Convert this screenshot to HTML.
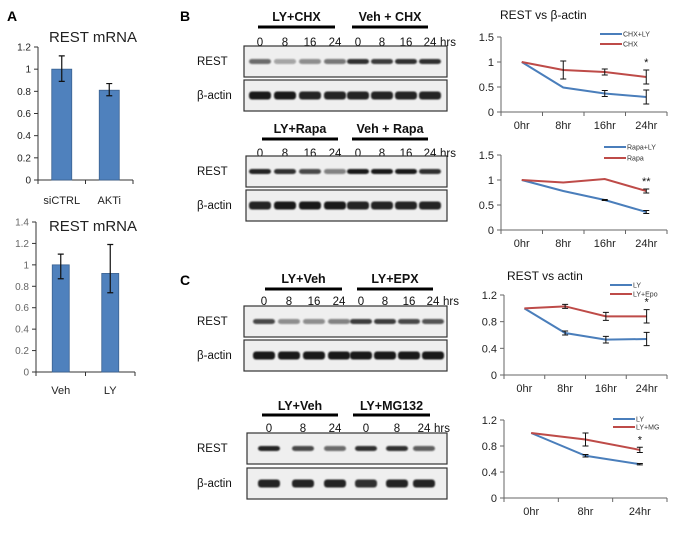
<!DOCTYPE html>
<html><head><meta charset="utf-8"><style>
html,body{margin:0;padding:0;background:#fff}
svg{display:block;font-family:"Liberation Sans",Arial,sans-serif}
</style></head><body>
<svg id="fig" width="680" height="533" viewBox="0 0 680 533" xmlns="http://www.w3.org/2000/svg">
<defs><filter id="blur" x="-20%" y="-80%" width="140%" height="260%"><feGaussianBlur stdDeviation="0.9"/></filter></defs>
<text x="7" y="21" font-size="14" font-weight="bold">A</text>
<text x="180" y="21" font-size="14" font-weight="bold">B</text>
<text x="180" y="285" font-size="14" font-weight="bold">C</text>
</svg>
<script>
const NS='http://www.w3.org/2000/svg';
const svg=document.getElementById('fig');
function mk(tag,attrs,parent){const e=document.createElementNS(NS,tag);for(const k in attrs)e.setAttribute(k,attrs[k]);(parent||svg).appendChild(e);return e;}
function txt(s,attrs){const t=mk('text',attrs);t.textContent=s;return t;}

// ---------- Panel A data ----------
const a1Cats=['siCTRL','AKTi'];
const a1Vals=[1.0,0.81];
const a1ErrLo=[0.89,0.76];
const a1ErrHi=[1.12,0.87];
const a1Ticks=['0','0.2','0.4','0.6','0.8','1','1.2'];
const a2Cats=['Veh','LY'];
const a2Vals=[1.0,0.92];
const a2ErrLo=[0.87,0.74];
const a2ErrHi=[1.1,1.19];
const a2Ticks=['0','0.2','0.4','0.6','0.8','1','1.2','1.4'];

function barChart(o){
  const g=mk('g',{});
  
  
  const max=parseFloat(o.ticks[o.ticks.length-1]);
  const y=v=>o.yB-v/max*(o.yB-o.yT);
  const t=txt('REST mRNA',{x:93,y:o.titleY,'font-size':15,'text-anchor':'middle',fill:'#222'});
  
  
  g.appendChild(t);
  o.ticks.forEach(s=>{
    const v=parseFloat(s);
    const l=txt(s,{x:o.x0-7,y:y(v)+3.5,'font-size':10,'text-anchor':'end',fill:o.tc});
    
    
    g.appendChild(l);
    const tk=mk('line',{x1:o.x0-4,x2:o.x0,y1:y(v),y2:y(v),stroke:'#333'},g);
    
    
  });
  const ax=mk('line',{x1:o.x0,x2:o.x0,y1:o.yT,y2:o.yB,stroke:'#333'},g);
  
  
  const xa=mk('line',{x1:o.x0,x2:o.x1,y1:o.yB,y2:o.yB,stroke:'#333'},g);
  
  
  const n=o.cats.length,w=(o.x1-o.x0)/n;
  for(let i=0;i<=n;i++){
    const tk=mk('line',{x1:o.x0+i*w,x2:o.x0+i*w,y1:o.yB,y2:o.yB+4,stroke:'#333'},g);
    
    
  }
  o.cats.forEach((c,i)=>{
    const cx=o.x0+(i+0.5)*w;
    const b=mk('rect',{x:cx-o.bw/2,y:y(o.vals[i]),width:o.bw,height:o.yB-y(o.vals[i]),fill:'#4f81bd',stroke:'#3a6190','stroke-width':0.8},g);
    
    
    const e=mk('path',{d:`M${cx},${y(o.lo[i])}V${y(o.hi[i])}M${cx-3},${y(o.lo[i])}h6M${cx-3},${y(o.hi[i])}h6`,stroke:'#111','stroke-width':1.2,fill:'none'},g);
    
    
    const l=txt(c,{x:cx,y:o.labY,'font-size':11,'text-anchor':'middle',fill:'#222'});
    
    
    g.appendChild(l);
  });
}
barChart({name:'rest-mrna-akti-chart',x0:38,x1:133,yT:47,yB:180,ticks:a1Ticks,cats:a1Cats,vals:a1Vals,lo:a1ErrLo,hi:a1ErrHi,bw:20,titleY:42,labY:204,tc:'#222'});
barChart({name:'rest-mrna-ly-chart',x0:36,x1:135,yT:222,yB:372,ticks:a2Ticks,cats:a2Cats,vals:a2Vals,lo:a2ErrLo,hi:a2ErrHi,bw:17,titleY:231,labY:394,tc:'#666'});

// ---------- Blots ----------
const blotCHXRest=[0.6,0.35,0.45,0.55,0.85,0.8,0.85,0.85];
const blotCHXActin=[0.95,0.95,0.9,0.9,0.9,0.9,0.9,0.9];
const blotRapaRest=[0.9,0.85,0.75,0.5,0.95,0.95,0.95,0.85];
const blotRapaActin=[0.9,0.95,0.95,0.95,0.9,0.9,0.9,0.9];
const blotEPXRest=[0.75,0.45,0.45,0.5,0.8,0.8,0.75,0.7];
const blotEPXActin=[0.95,0.95,0.95,0.95,0.95,0.95,0.95,0.95];
const blotMGRest=[0.9,0.75,0.6,0.85,0.85,0.65];
const blotMGActin=[0.9,0.9,0.9,0.85,0.9,0.9];

function blotSet(o){
  const g=mk('g',{});
  
  
  o.heads.forEach(h=>{
    const t=txt(h.t,{x:(h.a+h.b)/2,y:o.hy,'font-size':12.5,'font-weight':'bold','text-anchor':'middle',fill:'#111'});
    
    
    g.appendChild(t);
    const r=mk('rect',{x:h.a,y:o.by-1.5,width:h.b-h.a,height:3,fill:'#000'},g);
    
    
  });
  o.nums.forEach((s,i)=>{
    const t=txt(s,{x:o.lx[i],y:o.ny,'font-size':11.5,'text-anchor':'middle',fill:'#111'});
    
    
    g.appendChild(t);
  });
  const hr=txt('hrs',{x:o.lx[o.lx.length-1]+10,y:o.ny,'font-size':11.5,fill:'#111'});
  
  
  g.appendChild(hr);
  [['REST',o.r1,o.restI,5],['β-actin',o.r2,o.actI,8]].forEach(([lab,yy,arr,bh])=>{
    const t=txt(lab,{x:197,y:yy+19,'font-size':11.5,fill:'#111'});
    
    
    g.appendChild(t);
    const box=mk('rect',{x:o.bx,y:yy,width:447-o.bx,height:31,fill:'#efefef',stroke:'#333','stroke-width':1.2},g);
    
    
    arr.forEach((v,i)=>{
      const b=mk('rect',{x:o.lx[i]-11,y:yy+15.5-bh/2,width:22,height:bh,rx:3,fill:'#111','fill-opacity':v,filter:'url(#blur)'},g);
      
      
    });
  });
}
const L8=[260,285,310,335,358,382,406,430];
blotSet({name:'blot-chx',heads:[{t:'LY+CHX',a:258,b:335},{t:'Veh + CHX',a:352,b:428}],hy:21,by:27,ny:46,nums:['0','8','16','24','0','8','16','24'],lx:L8,r1:46,r2:80,bx:244,restI:blotCHXRest,actI:blotCHXActin});
blotSet({name:'blot-rapa',heads:[{t:'LY+Rapa',a:262,b:338},{t:'Veh + Rapa',a:352,b:428}],hy:133,by:139,ny:157,nums:['0','8','16','24','0','8','16','24'],lx:L8,r1:156,r2:190,bx:246,restI:blotRapaRest,actI:blotRapaActin});
blotSet({name:'blot-epx',heads:[{t:'LY+Veh',a:265,b:342},{t:'LY+EPX',a:357,b:433}],hy:283,by:289,ny:305,nums:['0','8','16','24','0','8','16','24'],lx:[264,289,314,339,361,385,409,433],r1:306,r2:340,bx:244,restI:blotEPXRest,actI:blotEPXActin});
blotSet({name:'blot-mg132',heads:[{t:'LY+Veh',a:262,b:338},{t:'LY+MG132',a:353,b:430}],hy:410,by:415,ny:432,nums:['0','8','24','0','8','24'],lx:[269,303,335,366,397,424],r1:433,r2:468,bx:247,restI:blotMGRest,actI:blotMGActin});

// ---------- Line charts ----------
const l1Cats=['0hr','8hr','16hr','24hr'];
const l1Ticks=['0','0.5','1','1.5'];
const l1Blue=[1,0.49,0.37,0.3];
const l1BlueErr=[0,0,0.06,0.14];
const l1Red=[1,0.84,0.8,0.7];
const l1RedErr=[0,0.18,0.06,0.14];
const l2Cats=['0hr','8hr','16hr','24hr'];
const l2Ticks=['0','0.5','1','1.5'];
const l2Blue=[1,0.78,0.6,0.36];
const l2BlueErr=[0,0,0.01,0.03];
const l2Red=[1,0.95,1.02,0.78];
const l2RedErr=[0,0.0,0,0.04];
const l3Cats=['0hr','8hr','16hr','24hr'];
const l3Ticks=['0','0.4','0.8','1.2'];
const l3Blue=[1,0.63,0.53,0.54];
const l3BlueErr=[0,0.03,0.05,0.1];
const l3Red=[1,1.03,0.88,0.88];
const l3RedErr=[0,0.03,0.06,0.1];
const l4Cats=['0hr','8hr','24hr'];
const l4Ticks=['0','0.4','0.8','1.2'];
const l4Blue=[1,0.65,0.52];
const l4BlueErr=[0,0.02,0.01];
const l4Red=[1,0.9,0.74];
const l4RedErr=[0,0.1,0.04];

function lineChart(o){
  const g=mk('g',{});
  
  
  const max=parseFloat(o.ticks[o.ticks.length-1]);
  const y=v=>o.yB-v/max*(o.yB-o.yT);
  const n=o.cats.length,w=(o.x1-o.x0)/n;
  const x=i=>o.x0+(i+0.5)*w;
  if(o.title){
    const t=txt(o.title,{x:o.tx,y:o.ty,'font-size':12,fill:'#111'});
    
    
    g.appendChild(t);
  }
  o.ticks.forEach(s=>{
    const v=parseFloat(s);
    const l=txt(s,{x:o.x0-7,y:y(v)+4,'font-size':11,'text-anchor':'end',fill:'#222'});
    
    
    g.appendChild(l);
    const tk=mk('line',{x1:o.x0-4,x2:o.x0,y1:y(v),y2:y(v),stroke:'#666'},g);
    
    
  });
  const ax=mk('line',{x1:o.x0,x2:o.x0,y1:o.yT,y2:o.yB,stroke:'#666'},g);
  
  
  const xa=mk('line',{x1:o.x0,x2:o.x1,y1:o.yB,y2:o.yB,stroke:'#666'},g);
  
  
  for(let i=0;i<=n;i++){
    const tk=mk('line',{x1:o.x0+i*w,x2:o.x0+i*w,y1:o.yB,y2:o.yB+4,stroke:'#666'},g);
    
    
  }
  o.cats.forEach((c,i)=>{
    const l=txt(c,{x:x(i),y:o.yB+17,'font-size':11,'text-anchor':'middle',fill:'#222'});
    
    
    g.appendChild(l);
  });
  [[o.blue,o.be,'#4a7ebb','blue'],[o.red,o.re,'#be4b48','red']].forEach(([vals,err,col,nm])=>{
    const p=mk('polyline',{points:vals.map((v,i)=>x(i)+','+y(v)).join(' '),fill:'none',stroke:col,'stroke-width':2},g);
    
    
    vals.forEach((v,i)=>{
      if(!err[i])return;
      const e=mk('path',{d:`M${x(i)},${y(v-err[i])}V${y(v+err[i])}M${x(i)-3},${y(v-err[i])}h6M${x(i)-3},${y(v+err[i])}h6`,stroke:'#111','stroke-width':1,fill:'none'},g);
      
      
    });
  });
  const last=n-1;
  const st=txt(o.star,{x:x(last),y:y(o.red[last]+o.re[last])-4,'font-size':11,'text-anchor':'middle',fill:'#111'});
  
  
  g.appendChild(st);
  o.leg.forEach((s,i)=>{
    const ly=o.ly+i*o.ld;
    const ln=mk('line',{x1:o.lx,x2:o.lx+22,y1:ly,y2:ly,stroke:i?'#be4b48':'#4a7ebb','stroke-width':2},g);
    
    
    const t=txt(s,{x:o.lx+23,y:ly+2.5,'font-size':7,fill:'#333'});
    
    
    g.appendChild(t);
  });
}
lineChart({name:'chx-line-chart',title:'REST vs β-actin',tx:500,ty:19,x0:501,x1:667,yT:37,yB:112,ticks:l1Ticks,cats:l1Cats,blue:l1Blue,be:l1BlueErr,red:l1Red,re:l1RedErr,star:'*',leg:['CHX+LY','CHX'],lx:600,ly:34,ld:10});
lineChart({name:'rapa-line-chart',x0:501,x1:667,yT:155,yB:230,ticks:l2Ticks,cats:l2Cats,blue:l2Blue,be:l2BlueErr,red:l2Red,re:l2RedErr,star:'**',leg:['Rapa+LY','Rapa'],lx:604,ly:147,ld:11});
lineChart({name:'epx-line-chart',title:'REST vs actin',tx:507,ty:280,x0:504,x1:667,yT:295,yB:375,ticks:l3Ticks,cats:l3Cats,blue:l3Blue,be:l3BlueErr,red:l3Red,re:l3RedErr,star:'*',leg:['LY','LY+Epo'],lx:610,ly:285,ld:9});
lineChart({name:'mg132-line-chart',x0:504,x1:667,yT:420,yB:498,ticks:l4Ticks,cats:l4Cats,blue:l4Blue,be:l4BlueErr,red:l4Red,re:l4RedErr,star:'*',leg:['LY','LY+MG'],lx:613,ly:419,ld:8});
</script>
</body></html>
